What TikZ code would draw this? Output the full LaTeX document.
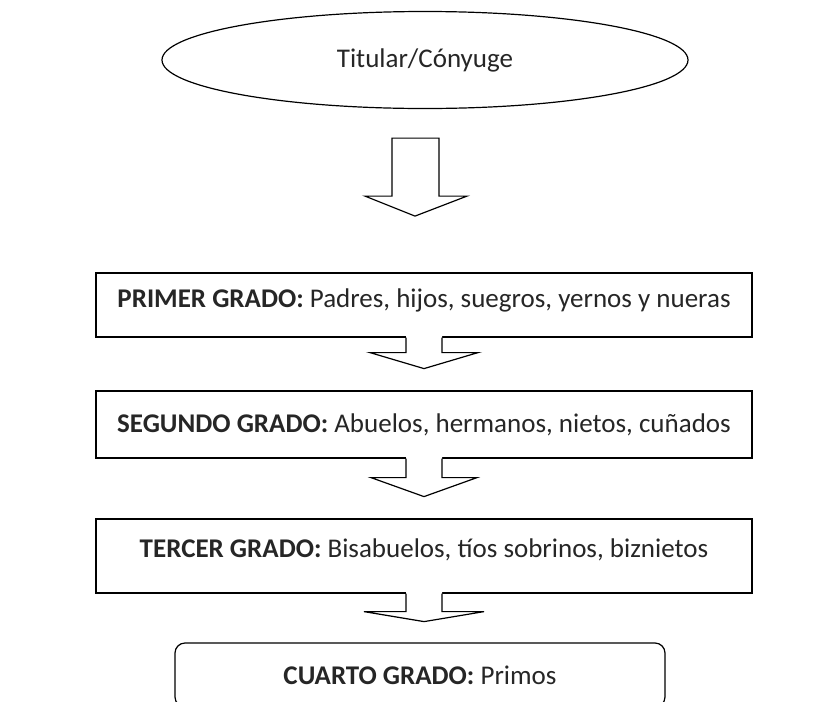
\documentclass[tikz,border=0pt]{standalone}
\usepackage{fontspec}
\setmainfont{Carlito}
\usetikzlibrary{shapes.geometric,calc}
\newcommand\gapArrow[5]{%
  \fill[white] ($(#1)+(-#2,-1.6)$) -- ($(#1)+(-#2,#3)$) -- ($(#1)+(-#4,#3)$) -- ($(#1)+(0,#3+#5)$) -- ($(#1)+(#4,#3)$) -- ($(#1)+(#2,#3)$) -- ($(#1)+(#2,-1.6)$) -- cycle;
  \draw[arrline] ($(#1)+(-#2,0)$) -- ($(#1)+(-#2,#3)$) -- ($(#1)+(-#4,#3)$) -- ($(#1)+(0,#3+#5)$) -- ($(#1)+(#4,#3)$) -- ($(#1)+(#2,#3)$) -- ($(#1)+(#2,0)$);
}
\begin{document}
\begin{tikzpicture}[x=1pt,y=-1pt,line width=1.2pt,
  lbl/.style={font=\fontsize{27}{32}\selectfont, text=black!85},
  gradebox/.style={draw, rectangle, minimum width=656pt, inner sep=0pt, lbl},
  arrline/.style={line join=miter}]
\clip (0,0) rectangle (828,702);
\fill[white] (0,0) rectangle (828,702);
\node[draw, ellipse, minimum width=526pt, minimum height=97pt, inner sep=0pt, lbl] (tit) at (425,60) {Titular/Cónyuge};
\node[gradebox, minimum height=64pt, text depth=13pt] (b1) at (424,305) {\textbf{PRIMER GRADO:} Padres, hijos, suegros, yernos y nueras};
\node[gradebox, minimum height=67pt] (b2) at (424,424.5) {\textbf{SEGUNDO GRADO:} Abuelos, hermanos, nietos, cuñados};
\node[gradebox, minimum height=74pt, text depth=16pt] (b3) at (424,556) {\textbf{TERCER GRADO:} Bisabuelos, tíos sobrinos, biznietos};
\node[draw, rectangle, rounded corners=10pt, minimum width=490pt, minimum height=64pt, inner sep=0pt, lbl] (b4) at (420,675) {\textbf{CUARTO GRADO:} Primos};
% big arrow from the ellipse
\draw[arrline, fill=white] ($(tit.south)+(-33,29)$) -- ($(tit.south)+(14,29)$) -- ($(tit.south)+(14,87)$) -- ($(tit.south)+(42,87)$) -- ($(tit.south)+(-10,107)$) -- ($(tit.south)+(-60,87)$) -- ($(tit.south)+(-33,87)$) -- cycle;
% small arrows between boxes
\gapArrow{b1.south}{18}{15}{54}{16}
\gapArrow{b2.south}{18}{19}{53}{19}
\gapArrow{b3.south}{18}{18}{60}{10}
\end{tikzpicture}
\end{document}
